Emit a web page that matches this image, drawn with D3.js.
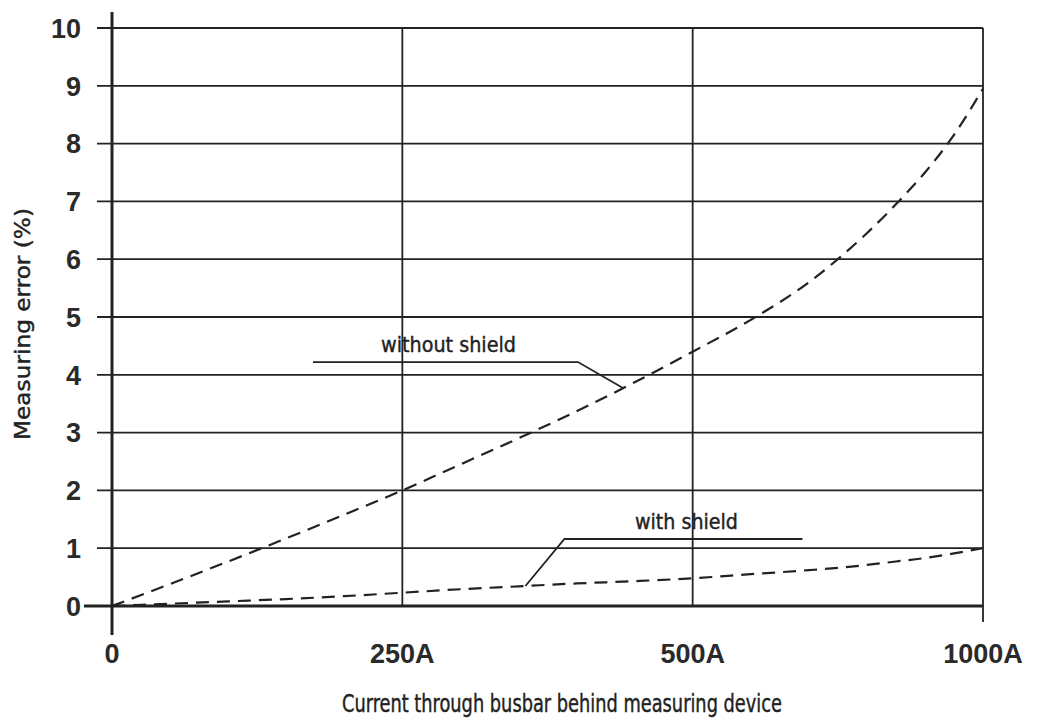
<!DOCTYPE html>
<meta charset="utf-8">
<script src="https://d3js.org/d3.v7.min.js"></script>
<style>
  body { margin: 0; background: #fff; }
</style>
<div id="chart"></div>
<script>
// Data
var xTicks = [0, 250, 500, 1000];
var xTickLabels = ["0", "250A", "500A", "1000A"];
var yTicks = [0, 1, 2, 3, 4, 5, 6, 7, 8, 9, 10];

var current = [0, 50, 100, 150, 200, 250, 300, 350, 400, 450, 500, 600, 700, 750, 800, 850, 900, 950, 1000];
var withoutShield = [0, 0.38, 0.77, 1.17, 1.58, 2.0, 2.45, 2.9, 3.37, 3.87, 4.4, 4.95, 5.6, 6.0, 6.45, 6.95, 7.5, 8.15, 8.95];
var withShield = [0, 0.04, 0.08, 0.12, 0.17, 0.23, 0.29, 0.34, 0.39, 0.43, 0.48, 0.55, 0.62, 0.66, 0.71, 0.77, 0.83, 0.91, 1.0];

var W = 1044, H = 720;
var margin = {top: 28, right: 61, bottom: 114, left: 112},
    width = W - margin.left - margin.right,
    height = H - margin.top - margin.bottom;

var svg = d3.select("#chart").append("svg")
    .attr("width", W)
    .attr("height", H);

var g = svg.append("g")
    .attr("transform", `translate(${margin.left},${margin.top})`);

// x axis is drawn with equally spaced categories (0, 250A, 500A, 1000A)
var x = d3.scaleLinear()
    .domain(xTicks)
    .range(xTicks.map((d, i) => i * width / (xTicks.length - 1)));

var y = d3.scaleLinear()
    .domain([0, 10])
    .range([height, 0]);

var ink = "#222";
var sans = "Liberation Sans, Arial, sans-serif";
var condensed = "DejaVu Sans Condensed, DejaVu Sans, sans-serif";

// horizontal grid lines
g.append("g")
  .selectAll("line")
  .data(yTicks)
  .join("line")
    .attr("x1", d => d === 0 ? -28 : -15)
    .attr("x2", width)
    .attr("y1", d => y(d))
    .attr("y2", d => y(d))
    .attr("stroke", ink)
    .attr("stroke-width", d => d === 0 ? 3 : 1.8);

// vertical grid lines
g.append("g")
  .selectAll("line")
  .data(xTicks)
  .join("line")
    .attr("x1", d => x(d))
    .attr("x2", d => x(d))
    .attr("y1", d => d === 0 ? -16 : 0)
    .attr("y2", d => d === 0 ? height + 29 : d === 1000 ? height + 16 : height)
    .attr("stroke", ink)
    .attr("stroke-width", d => d === 0 ? 3 : 1.8);

// tick labels
g.append("g")
    .attr("font-family", sans)
    .attr("font-size", 27)
    .attr("font-weight", "bold")
    .attr("fill", "#2a2a2a")
    .attr("text-anchor", "end")
  .selectAll("text")
  .data(yTicks)
  .join("text")
    .attr("x", -31)
    .attr("y", d => y(d))
    .attr("dy", "0.36em")
    .text(d => d);

g.append("g")
    .attr("font-family", sans)
    .attr("font-size", 27)
    .attr("font-weight", "bold")
    .attr("fill", "#2a2a2a")
    .attr("text-anchor", "middle")
  .selectAll("text")
  .data(xTicks)
  .join("text")
    .attr("x", d => x(d))
    .attr("y", height + 57)
    .text((d, i) => xTickLabels[i]);

// axis titles
svg.append("text")
    .attr("x", 562)
    .attr("y", 712)
    .attr("text-anchor", "middle")
    .attr("font-family", condensed)
    .attr("font-size", 24)
    .attr("fill", ink)
    .attr("stroke", ink)
    .attr("stroke-width", 0.4)
    .attr("textLength", 440)
    .attr("lengthAdjust", "spacingAndGlyphs")
    .text("Current through busbar behind measuring device");

svg.append("text")
    .attr("transform", "translate(30,324) rotate(-90)")
    .attr("text-anchor", "middle")
    .attr("font-family", condensed)
    .attr("font-size", 22)
    .attr("fill", ink)
    .attr("stroke", ink)
    .attr("stroke-width", 0.4)
    .attr("textLength", 232)
    .attr("lengthAdjust", "spacingAndGlyphs")
    .text("Measuring error (%)");

// curves
var line = d3.line()
    .x(d => x(d[0]))
    .y(d => y(d[1]))
    .curve(d3.curveMonotoneX);

[withoutShield, withShield].forEach(function(series) {
  g.append("path")
      .datum(d3.zip(current, series))
      .attr("fill", "none")
      .attr("stroke", ink)
      .attr("stroke-width", 2.2)
      .attr("stroke-dasharray", "13,8")
      .attr("d", line);
});

function valueAt(series, v) {
  var i = d3.bisectLeft(current, v);
  if (current[i] === v) return series[i];
  var t = (v - current[i - 1]) / (current[i] - current[i - 1]);
  return series[i - 1] + t * (series[i] - series[i - 1]);
}

// annotations: leader from a point on the curve to an elbow, then a shelf under the label
var notes = [
  {text: "without shield", series: withoutShield, at: 440, dx: -45, dy: -26, shelf: -265, len: 135},
  {text: "with shield", series: withShield, at: 356, dx: 39, dy: -47, shelf: 238, len: 103}
];

notes.forEach(function(n) {
  var px = x(n.at), py = y(valueAt(n.series, n.at));
  var ex = px + n.dx, ey = py + n.dy;
  var sx = ex + n.shelf;
  g.append("path")
      .attr("fill", "none")
      .attr("stroke", ink)
      .attr("stroke-width", 1.8)
      .attr("d", `M${px},${py}L${ex},${ey}L${sx},${ey}`);
  g.append("text")
      .attr("x", (ex + sx) / 2 + 3)
      .attr("y", ey - 10)
      .attr("text-anchor", "middle")
      .attr("font-family", condensed)
      .attr("font-size", 22)
      .attr("fill", ink)
      .attr("stroke", ink)
      .attr("stroke-width", 0.4)
      .attr("textLength", n.len)
      .attr("lengthAdjust", "spacingAndGlyphs")
      .text(n.text);
});
</script>
